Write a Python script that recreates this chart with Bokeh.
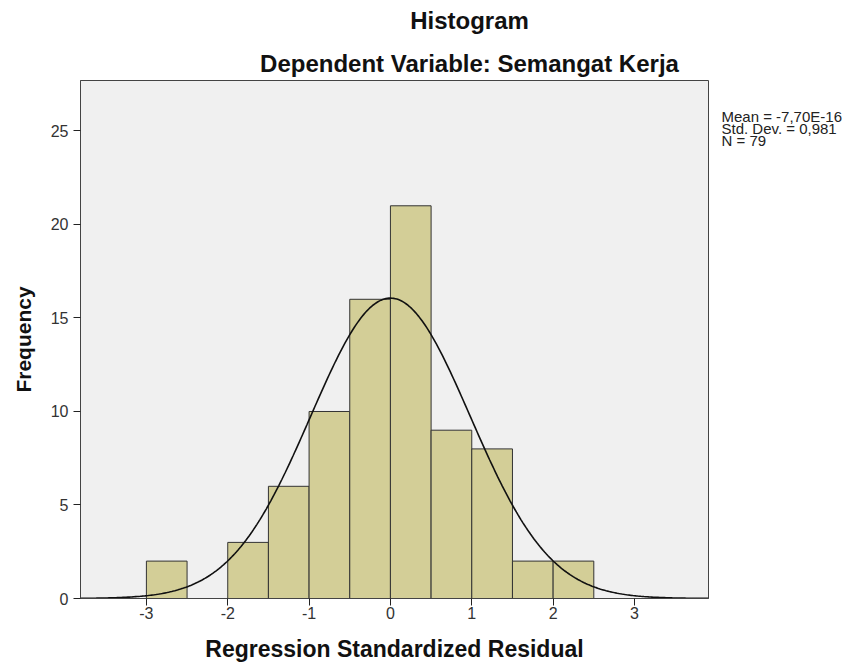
import numpy as np
from bokeh.plotting import figure
from bokeh.layouts import column, row
from bokeh.models import Range1d, FixedTicker
from bokeh.core.properties import value
from bokeh.embed import file_html
from bokeh.resources import INLINE

# ---- data ----
bin_left = [-3.0, -2.0, -1.5, -1.0, -0.5, 0.0, 0.5, 1.0, 1.5, 2.0]
counts = [2, 3, 6, 10, 16, 21, 9, 8, 2, 2]
bin_width = 0.5
x_ticks = [-3, -2, -1, 0, 1, 2, 3]
y_ticks = [0, 5, 10, 15, 20, 25]
stat_mean = -7.70e-16
stat_sd = 0.981
stat_n = 79
stat_lines = ["Mean = -7,70E-16", "Std. Dev. = 0,981", "N = 79"]
title_lines = ["Histogram", "Dependent Variable: Semangat Kerja"]
x_label = "Regression Standardized Residual"
y_label = "Frequency"

FONT = "Liberation Sans"
BAR = "#D3CE97"
BG = "#F0F0F0"


def blank(w, h):
    f = figure(width=w, height=h, output_backend="svg", toolbar_location=None,
               x_range=Range1d(0, w), y_range=Range1d(h, 0),
               min_border=0, outline_line_color=None)
    f.axis.visible = False
    f.grid.visible = False
    f.background_fill_color = "white"
    f.border_fill_color = "white"
    return f


# ---- title strip ----
tfig = blank(850, 78)
tfig.text(x=[469, 469], y=[20, 63], text=title_lines,
          text_font=value(FONT), text_font_style="bold",
          text_font_size="24px", text_align="center",
          text_baseline="middle", text_color="#111111")

# ---- main histogram ----
p = figure(width=710, height=586, output_backend="svg", toolbar_location=None,
           x_range=Range1d(-3.81, 3.91), y_range=Range1d(0, 27.7),
           min_border_left=80, min_border_top=2, min_border_right=2,
           min_border_bottom=66)
p.background_fill_color = BG
p.border_fill_color = "white"
p.outline_line_color = "#444444"
p.outline_line_width = 1
p.xgrid.visible = False
p.ygrid.visible = False

right_edges = [b + bin_width for b in bin_left]
p.quad(left=bin_left, right=right_edges, bottom=0, top=counts,
       fill_color=BAR, line_color="#333333", line_width=1)

# fitted normal curve from the printed statistics
xs = np.linspace(-3.81, 3.91, 400)
ys = stat_n * bin_width * np.exp(-0.5 * ((xs - stat_mean) / stat_sd) ** 2) / (stat_sd * np.sqrt(2 * np.pi))
p.line(xs, ys, line_color="#111111", line_width=1.6)

for ax in (p.xaxis, p.yaxis):
    ax.major_label_text_font = FONT
    ax.major_label_text_font_size = "16px"
    ax.major_label_text_color = "#333333"
    ax.axis_label_text_font = FONT
    ax.axis_label_text_font_style = "bold"
    ax.axis_label_text_color = "#111111"
    ax.minor_tick_line_color = None
    ax.major_tick_out = 7
    ax.major_tick_in = 0
    ax.major_tick_line_color = "#222222"
    ax.axis_line_color = "#444444"

p.xaxis.axis_label_text_font_size = "23px"
p.yaxis.axis_label_text_font_size = "21px"
p.xaxis.ticker = FixedTicker(ticks=x_ticks)
p.yaxis.ticker = FixedTicker(ticks=y_ticks)
p.xaxis.major_label_overrides = {t: str(t) for t in x_ticks}
p.yaxis.major_label_overrides = {t: str(t) for t in y_ticks}
p.xaxis.axis_label = x_label
p.yaxis.axis_label = y_label
p.xaxis.major_label_standoff = 1
p.yaxis.major_label_standoff = 5
p.xaxis.axis_label_standoff = 14
p.yaxis.axis_label_standoff = 13

# ---- statistics box on the right ----
sfig = blank(140, 586)
sfig.text(x=[11, 11, 11], y=[41, 54.5, 68], text=stat_lines,
          text_font=value(FONT), text_font_size="15px", text_align="left",
          text_baseline="middle", text_color="#222222")

layout = column(tfig, row(p, sfig))
open("out.html", "w").write(file_html(layout, INLINE))
